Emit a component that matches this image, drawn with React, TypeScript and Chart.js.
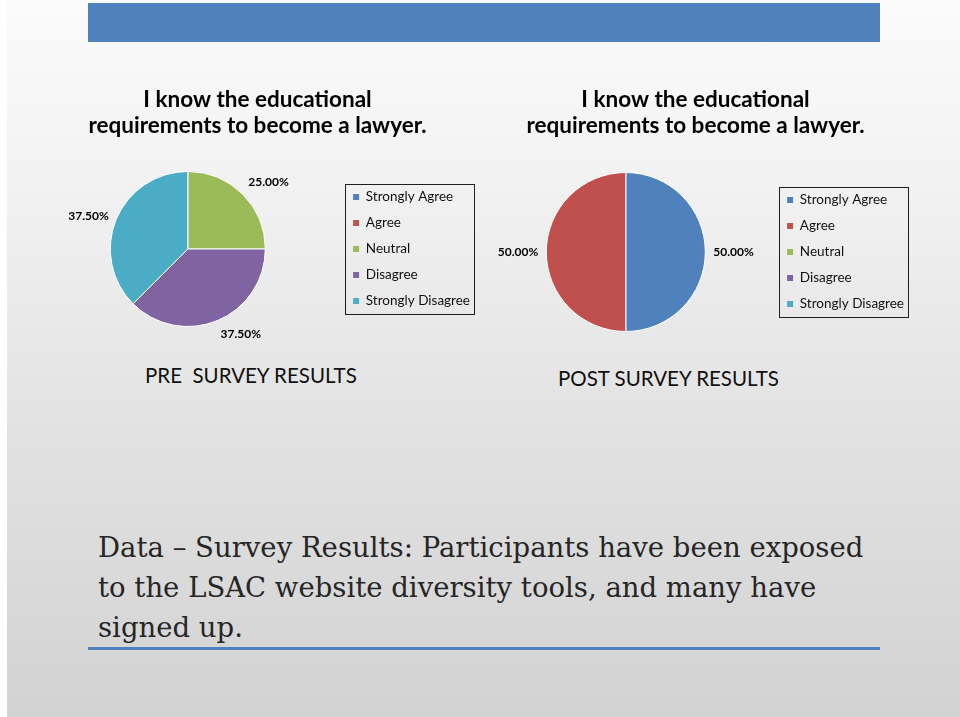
import React, { useEffect, useRef } from 'react';
import { Chart, registerables } from 'chart.js';

Chart.register(...registerables);

const categories = ['Strongly Agree', 'Agree', 'Neutral', 'Disagree', 'Strongly Disagree'];
const preValues = [0, 0, 25, 37.5, 37.5];
const postValues = [50, 50, 0, 0, 0];
const preTitle = ['I know the educational', 'requirements to become a lawyer.'];
const postTitle = ['I know the educational', 'requirements to become a lawyer.'];
const preCaption = 'PRE  SURVEY RESULTS';
const postCaption = 'POST SURVEY RESULTS';
const sliceColors = ['#4F81BD', '#C0504D', '#9BBB59', '#8064A2', '#4BACC6'];
const bodyLines = [
  'Data \u2013 Survey Results: Participants have been exposed',
  'to the LSAC website diversity tools, and many have',
  'signed up.',
];

const LEGEND_FONT = 13.5;
const LEGEND_PAD = 12.5;
const LEGEND_BOX = 6;
const TITLE_SIZE = 22.5;
const TITLE_LINE = 26;

function measureText(text: string, font: string): number {
  const c = document.createElement('canvas').getContext('2d')!;
  c.font = font;
  return c.measureText(text).width;
}

const pctLabels = {
  id: 'pctLabels',
  afterDatasetsDraw(chart: any) {
    const ctx = chart.ctx;
    const meta = chart.getDatasetMeta(0);
    const values = chart.data.datasets[0].data as number[];
    ctx.save();
    ctx.font = 'bold 12px Lato';
    ctx.fillStyle = '#000';
    meta.data.forEach((arc: any, i: number) => {
      const v = values[i];
      if (!v) return;
      const p = arc.getProps(['x', 'y', 'startAngle', 'endAngle', 'outerRadius'], true);
      const mid = (p.startAngle + p.endAngle) / 2;
      const dx = Math.cos(mid);
      const dy = Math.sin(mid);
      const r = p.outerRadius + 8;
      ctx.textAlign = dx > 0.3 ? 'left' : dx < -0.3 ? 'right' : 'center';
      ctx.textBaseline = dy > 0.5 ? 'top' : dy < -0.5 ? 'bottom' : 'middle';
      ctx.fillText(v.toFixed(2) + '%', p.x + dx * r, p.y + dy * r);
    });
    ctx.restore();
  },
};

const legendFrame = {
  id: 'legendFrame',
  afterDraw(chart: any) {
    const lg = chart.legend;
    if (!lg) return;
    const ctx = chart.ctx;
    const n = lg.legendItems.length;
    const itemH = LEGEND_FONT;
    const L = itemH + LEGEND_PAD;
    const colH = n * L;
    const firstTop = (lg.top + LEGEND_PAD + lg.bottom - colH) / 2;
    const markerX = lg.left + LEGEND_PAD;
    ctx.save();
    ctx.font = `${LEGEND_FONT}px Lato`;
    let maxW = 0;
    lg.legendItems.forEach((it: any) => {
      maxW = Math.max(maxW, ctx.measureText(it.text).width);
    });
    const x0 = Math.round(markerX - 8.5) + 0.5;
    const x1 = Math.round(markerX + LEGEND_BOX + LEGEND_FONT / 2 + maxW + 3.5) + 0.5;
    const y0 = Math.round(firstTop - 6.5) + 0.5;
    const y1 = Math.round(firstTop + (n - 1) * L + itemH + 6.5) + 0.5;
    ctx.strokeStyle = '#1e1e1e';
    ctx.lineWidth = 1;
    ctx.strokeRect(x0, y0, x1 - x0, y1 - y0);
    ctx.restore();
  },
};

type PieProps = {
  values: number[];
  title: string[];
  left: number;
  top: number;
  height: number;
  areaLeft: number;
  areaRight: number;
  padB: number;
  titleTop: number;
  titleBottom: number;
};

function PieChart(props: PieProps) {
  const ref = useRef<HTMLCanvasElement | null>(null);
  const padL = props.areaLeft - props.left;
  const legendFontStr = `${LEGEND_FONT}px Lato`;
  const maxText = Math.max(...categories.map((c) => measureText(c, legendFontStr)));
  const legendW = LEGEND_PAD + LEGEND_BOX + LEGEND_FONT / 2 + maxText + 10;
  const width = Math.round(padL + (props.areaRight - props.areaLeft) + legendW);

  useEffect(() => {
    const canvas = ref.current!;
    const anyChart: any = Chart;
    const baseGen =
      anyChart.overrides?.doughnut?.plugins?.legend?.labels?.generateLabels ||
      anyChart.overrides?.pie?.plugins?.legend?.labels?.generateLabels;
    const chart = new Chart(canvas, {
      type: 'pie',
      data: {
        labels: categories,
        datasets: [
          {
            data: props.values,
            backgroundColor: sliceColors,
            borderColor: '#ffffff',
            borderWidth: 1,
          },
        ],
      },
      options: {
        responsive: false,
        animation: false,
        events: [],
        layout: { padding: { left: padL, right: 0, top: 0, bottom: props.padB } },
        plugins: {
          tooltip: { enabled: false },
          title: {
            display: true,
            text: props.title,
            color: '#000',
            font: { family: 'Lato', weight: 'bold', size: TITLE_SIZE, lineHeight: TITLE_LINE / TITLE_SIZE },
            padding: { top: props.titleTop, bottom: props.titleBottom },
          },
          legend: {
            display: true,
            position: 'right',
            align: 'center',
            fullSize: false,
            labels: {
              color: '#111',
              font: { family: 'Lato', size: LEGEND_FONT },
              boxWidth: LEGEND_BOX,
              boxHeight: LEGEND_BOX,
              padding: LEGEND_PAD,
              generateLabels: (c: any) =>
                (baseGen ? baseGen(c) : []).map((it: any) => ({ ...it, lineWidth: 0, strokeStyle: 'rgba(0,0,0,0)' })),
            },
          },
        },
      } as any,
      plugins: [pctLabels, legendFrame],
    });
    return () => chart.destroy();
  }, []);

  return (
    <canvas
      ref={ref}
      width={width}
      height={props.height}
      style={{ position: 'absolute', left: props.left, top: props.top, width, height: props.height }}
    />
  );
}

const captionStyle: React.CSSProperties = {
  position: 'absolute',
  fontFamily: 'Lato',
  fontSize: 20.5,
  lineHeight: '20.5px',
  color: '#111',
  whiteSpace: 'pre',
};

export default function App() {
  return (
    <div
      style={{
        position: 'fixed',
        left: 0,
        top: 0,
        width: 960,
        height: 717,
        overflow: 'hidden',
        background: '#ffffff',
      }}
    >
      <div
        style={{
          position: 'absolute',
          left: 7,
          top: 0,
          width: 953,
          height: 717,
          background: 'linear-gradient(to bottom, #fbfbfb 0%, #f2f2f2 25%, #e2e2e2 60%, #d2d2d2 100%)',
        }}
      />
      <div style={{ position: 'absolute', left: 88, top: 3, width: 792, height: 39, background: '#4F81BD' }} />
      <PieChart
        values={preValues}
        title={preTitle}
        left={20}
        top={82}
        height={270}
        areaLeft={35}
        areaRight={341}
        padB={25}
        titleTop={5}
        titleBottom={32}
      />
      <PieChart
        values={postValues}
        title={postTitle}
        left={462}
        top={82}
        height={270}
        areaLeft={477}
        areaRight={775}
        padB={20}
        titleTop={5}
        titleBottom={33}
      />
      <div style={{ ...captionStyle, left: 145, top: 365 }}>{preCaption}</div>
      <div style={{ ...captionStyle, left: 558, top: 368 }}>{postCaption}</div>
      <div
        style={{
          position: 'absolute',
          left: 98,
          top: 527,
          fontFamily: '"DejaVu Serif"',
          fontSize: 27.5,
          lineHeight: '40px',
          color: '#262626',
          whiteSpace: 'pre',
        }}
      >
        {bodyLines.map((l, i) => (
          <div key={i}>{l}</div>
        ))}
      </div>
      <div style={{ position: 'absolute', left: 88, top: 647, width: 792, height: 3, background: '#4F81BD' }} />
    </div>
  );
}
